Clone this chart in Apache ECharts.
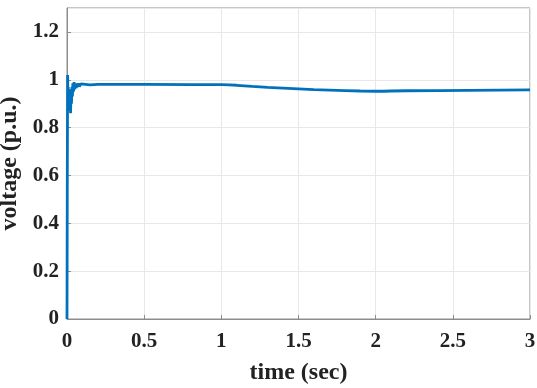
<!DOCTYPE html>
<html>
<head>
<meta charset="utf-8">
<script src="https://cdn.jsdelivr.net/npm/echarts@6/dist/echarts.min.js"></script>
<style>
  html, body { margin: 0; padding: 0; background: #fff; }
  #chart { width: 537px; height: 388px; }
</style>
</head>
<body>
<div id="chart"></div>
<script>
// time (sec) and voltage (p.u.)
const time = [0, 0.002, 0.004, 0.006, 0.008, 0.011, 0.014, 0.017, 0.02, 0.023, 0.026, 0.029,
  0.032, 0.035, 0.038, 0.042, 0.046, 0.05, 0.055, 0.06, 0.065, 0.07, 0.075, 0.08, 0.09,
  0.1, 0.12, 0.15, 0.2, 0.3, 0.5, 0.8, 1.0, 1.05, 1.1, 1.2, 1.3, 1.4, 1.5, 1.6, 1.7, 1.8,
  1.9, 2.0, 2.05, 2.1, 2.2, 2.4, 2.6, 2.8, 3.0];
const voltage = [0, 0.6, 1.02, 0.93, 0.97, 0.9, 0.96, 0.87, 0.95, 0.86, 0.94, 0.9,
  0.97, 0.93, 0.985, 0.95, 0.99, 0.96, 0.985, 0.965, 0.985, 0.97, 0.985, 0.972, 0.983,
  0.976, 0.981, 0.979, 0.981, 0.981, 0.981, 0.98, 0.98, 0.979, 0.977, 0.972, 0.968, 0.965, 0.962, 0.959, 0.957, 0.955,
  0.953, 0.952, 0.952, 0.953, 0.954, 0.955, 0.956, 0.957, 0.958];
const xTicks = [0, 0.5, 1, 1.5, 2, 2.5, 3];
const yTicks = [0, 0.2, 0.4, 0.6, 0.8, 1, 1.2];

const font = '"Liberation Serif", "DejaVu Serif", serif';
const frame = '#8c8c8c';

const chart = echarts.init(document.getElementById('chart'));
chart.setOption({
  animation: false,
  grid: {
    left: 67, right: 7, top: 8, bottom: 69, show: true, borderColor: frame, borderWidth: 1,
    outerBoundsMode: 'none', containLabel: false
  },
  xAxis: {
    type: 'value', min: 0, max: 3, interval: 0.5,
    name: 'time (sec)', nameLocation: 'middle', nameGap: 42,
    nameTextStyle: { fontFamily: font, fontWeight: 'bold', fontSize: 24, color: '#222' },
    axisLine: { show: true, lineStyle: { color: frame } },
    axisTick: { show: true, inside: true, length: 4, lineStyle: { color: frame } },
    splitLine: { show: true, lineStyle: { color: '#e8e8e8' } },
    axisLabel: {
      fontFamily: font, fontWeight: 'bold', fontSize: 21, color: '#222', margin: 12,
      formatter: v => xTicks.includes(v) ? String(v) : ''
    }
  },
  yAxis: {
    type: 'value', min: 0, max: 1.3, interval: 0.2,
    name: 'voltage (p.u.)', nameLocation: 'middle', nameGap: 39,
    nameTextStyle: { fontFamily: font, fontWeight: 'bold', fontSize: 24, color: '#222' },
    axisLine: { show: true, lineStyle: { color: frame } },
    axisTick: { show: true, inside: true, length: 4, lineStyle: { color: frame } },
    splitLine: { show: true, lineStyle: { color: '#e8e8e8' } },
    axisLabel: {
      fontFamily: font, fontWeight: 'bold', fontSize: 21, color: '#222', margin: 8,
      formatter: v => yTicks.some(t => Math.abs(t - v) < 1e-9) ? String(Math.round(v * 10) / 10) : '',
      showMaxLabel: false
    }
  },
  series: [{
    type: 'line',
    data: time.map((t, i) => [t, voltage[i]]),
    showSymbol: false,
    smooth: false,
    lineStyle: { color: '#0072BD', width: 2.8 }
  }]
});
</script>
</body>
</html>
